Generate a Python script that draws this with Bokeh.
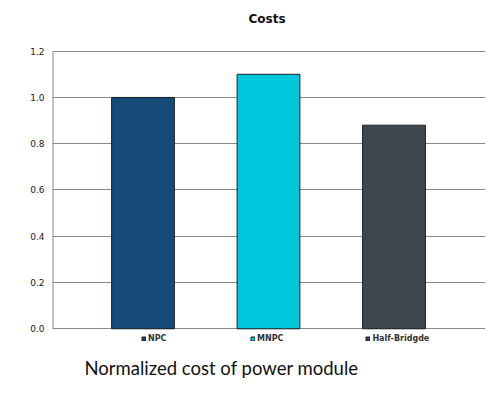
from bokeh.plotting import figure
from bokeh.models import ColumnDataSource, Range1d, FixedTicker, Legend, LegendItem, Label, CustomJSTickFormatter
from bokeh.embed import file_html
from bokeh.resources import INLINE

categories = ["NPC", "MNPC", "Half-Bridgde"]
values = [1.0, 1.1, 0.88]
colors = ["#164b78", "#00c8dc", "#3f464e"]
y_ticks = [0.0, 0.2, 0.4, 0.6, 0.8, 1.0, 1.2]
title_text = "Costs"
caption_text = "Normalized cost of power module"

xs = list(range(1, len(categories) + 1))
X0, X1 = 0.279, 3.729
Y0, Y1 = -0.284, 1.419

p = figure(width=488, height=394, output_backend="svg", toolbar_location=None,
           x_range=Range1d(X0, X1), y_range=Range1d(Y0, Y1),
           min_border_left=52, min_border_right=3, min_border_top=0, min_border_bottom=0)
p.outline_line_color = None
p.background_fill_color = "white"
p.border_fill_color = "white"
p.xaxis.visible = False

renderers = []
for i, (c, v, col) in enumerate(zip(categories, values, colors)):
    src = ColumnDataSource(dict(x=[xs[i]], top=[v]))
    r = p.vbar(x="x", top="top", bottom=0, width=0.5, source=src,
               fill_color=col, line_color="#1a1f24", line_width=1, level="overlay")
    renderers.append(r)

p.xgrid.visible = False
p.ygrid.ticker = FixedTicker(ticks=y_ticks)
p.ygrid.grid_line_color = "#8a8a8a"
p.ygrid.grid_line_width = 1
p.yaxis.ticker = FixedTicker(ticks=y_ticks)
p.yaxis.formatter = CustomJSTickFormatter(code="return tick.toFixed(1);")
p.yaxis.major_tick_out = 0
p.yaxis.major_tick_in = 0
p.yaxis.minor_tick_out = 0
p.yaxis.minor_tick_in = 0
p.yaxis.axis_line_color = None
p.yaxis.major_label_standoff = 8
p.yaxis.major_label_text_font = "DejaVu Sans"
p.yaxis.major_label_text_font_size = "9px"
p.yaxis.major_label_text_color = "#1a1a1a"

# left axis line, from 0 to top tick
p.segment(x0=[X0], y0=[y_ticks[0]], x1=[X0], y1=[y_ticks[-1]], line_color="#8a8a8a", line_width=2)

legend = Legend(items=[LegendItem(label=c, renderers=[r]) for c, r in zip(categories, renderers)],
                orientation="horizontal", location=(89, 51),
                glyph_width=5, glyph_height=5, label_standoff=2, spacing=82,
                padding=0, margin=0, border_line_color=None, background_fill_alpha=0,
                label_text_font="DejaVu Sans", label_text_font_size="8px",
                label_text_font_style="bold", label_text_color="#333333",
                label_height=8)
p.add_layout(legend, "center")

title = Label(x=1.988, y=1.337, text=title_text,
              text_align="center", text_baseline="middle",
              text_font="DejaVu Sans", text_font_style="bold", text_font_size="12px",
              text_color="#111111")
p.add_layout(title)

caption = Label(x=0.534, y=-0.170, text=caption_text,
                text_align="left", text_baseline="middle",
                text_font="Lato", text_font_size="18.5px", text_color="#111111")
p.add_layout(caption)

open("out.html", "w").write(file_html(p, INLINE))
